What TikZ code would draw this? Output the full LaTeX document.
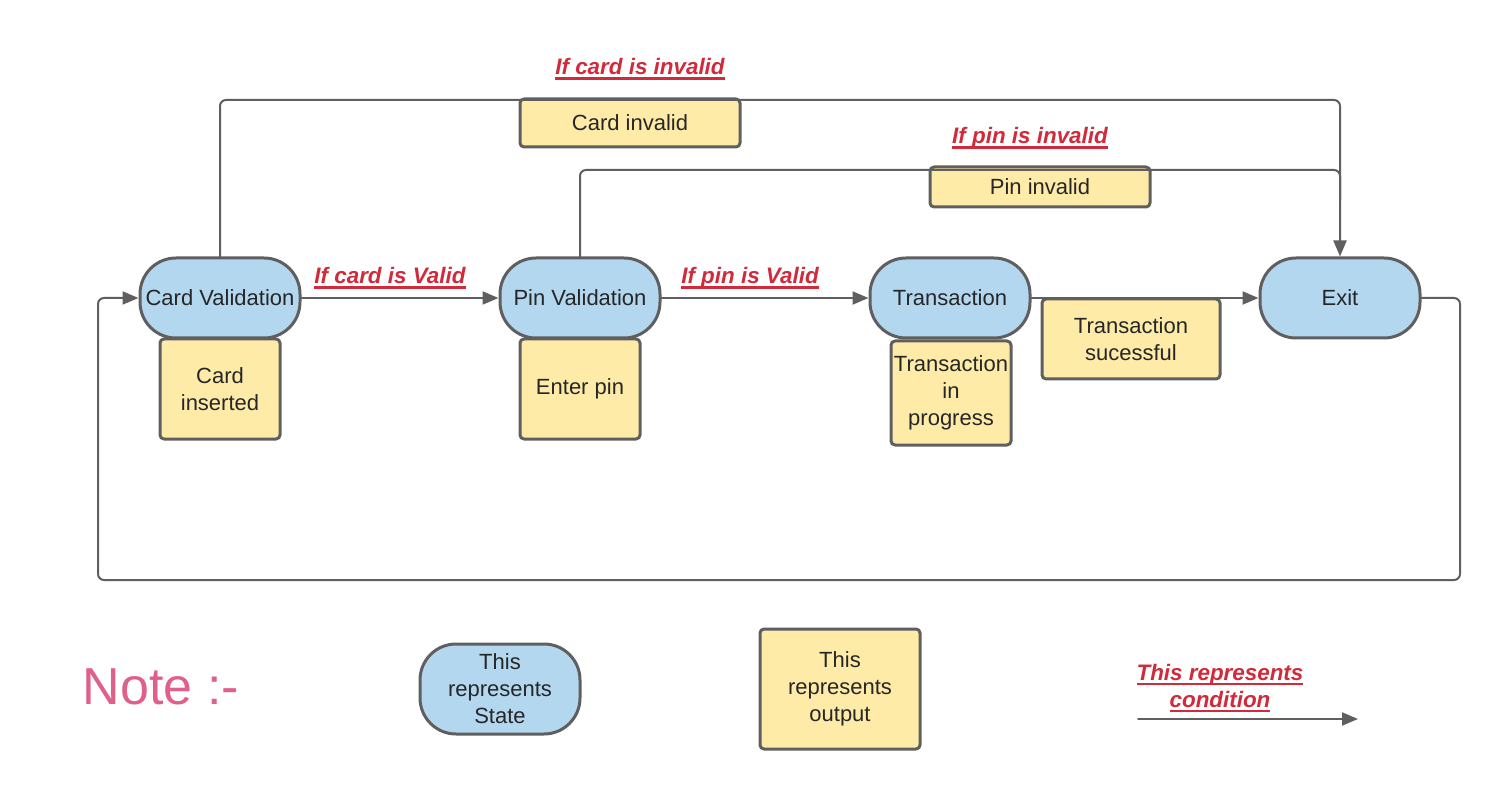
\documentclass[tikz,border=0pt]{standalone}
\usepackage{fontspec}
\setmainfont{Liberation Sans}
\usetikzlibrary{arrows.meta}
\definecolor{stateblue}{HTML}{B4D7F0}
\definecolor{outyellow}{HTML}{FFEBA8}
\definecolor{edgegray}{HTML}{5F5F5F}
\definecolor{condred}{HTML}{D12A3A}
\definecolor{notepink}{HTML}{E0608A}
\newcommand\condul[1]{\setbox0\hbox{#1}\rlap{\rule[-2.6pt]{\wd0}{1.3pt}}\box0}
\begin{document}
\begin{tikzpicture}[x=0.5pt, y=-0.5pt, font=\fontsize{11}{13.5}\selectfont,
            line join=round, line cap=round, >={Triangle[length=8pt,width=6.5pt]},
            state/.style={draw=edgegray, line width=1.5pt, fill=stateblue, rounded corners=18pt,
                minimum width=80pt, minimum height=40pt, inner sep=1pt, align=center, text=black!85},
            output/.style={draw=edgegray, line width=1.5pt, fill=outyellow, rounded corners=2pt,
                minimum width=60pt, minimum height=50pt, inner sep=1pt, align=center, text=black!85},
            cond/.style={text=condred, font=\fontsize{11.2}{13.5}\selectfont\bfseries\itshape, align=center},
            flow/.style={draw=edgegray, line width=1pt, rounded corners=3pt}]
            \useasboundingbox (0,0) rectangle (1502,790);
            % states
            \node[state] (cv) at (220,298) {Card Validation};
            \node[state] (pv) at (580,298) {Pin Validation};
            \node[state] (tr) at (950,298) {Transaction};
            \node[state] (ex) at (1340,298) {Exit};
            % outputs
            \node[output] (ci) at (220,389) {Card\\inserted};
            \node[output] (ep) at (580,389) {Enter pin};
            \node[output, minimum height=52pt] (tp) at (951,393) {Transaction\\in\\progress};
            \node[output, minimum width=89pt, minimum height=40pt] (ts) at (1131,339) {Transaction\\sucessful};
            \node[output, minimum width=110pt, minimum height=24pt] (ci2) at (630,123) {Card invalid};
            \node[output, minimum width=110pt, minimum height=20pt] (pi) at (1040,187) {Pin invalid};
            % conditions
            \node[cond] (c1) at (640,69) {\condul{If card is invalid}};
            \node[cond] (c2) at (1030,138) {\condul{If pin is invalid}};
            \node[cond] (c3) at (390,278) {\condul{If card is Valid}};
            \node[cond] (c4) at (750,278) {\condul{If pin is Valid}};
            \coordinate (topR) at (1340,100);
            \coordinate (midR) at (1340,170);
            \coordinate (loopR) at (1460,580);
            \coordinate (loopL) at (98,580);
            \draw[flow, ->] (cv) -- (pv);
            \draw[flow, ->] (pv) -- (tr);
            \draw[flow, ->] (tr) -- (ex);
            \draw[flow] (pv.north) |- (midR) -- (1340,200);
            \draw[flow, ->] (cv.north) |- (topR) -- (ex.north);
            \draw[flow, ->] (ex.east) -| (loopR) -- (loopL) |- (cv.west);
            % legend
            \node[text=notepink, font=\fontsize{26}{30}\selectfont] (note) at (161,687) {Note :-};
            \node[state, minimum height=45pt] (lst) at (500,689) {This\\represents\\State};
            \node[output, minimum width=80pt, minimum height=60pt] (lout) at (840,689) {This\\represents\\output};
            \node[cond] (lc) at (1220,688) {\condul{This represents}\\\condul{condition}};
            \coordinate (la) at (1138,719);
            \coordinate (lb) at (1358,719);
            \draw[flow, ->] (la) -- (lb);
\end{tikzpicture}
\end{document}
